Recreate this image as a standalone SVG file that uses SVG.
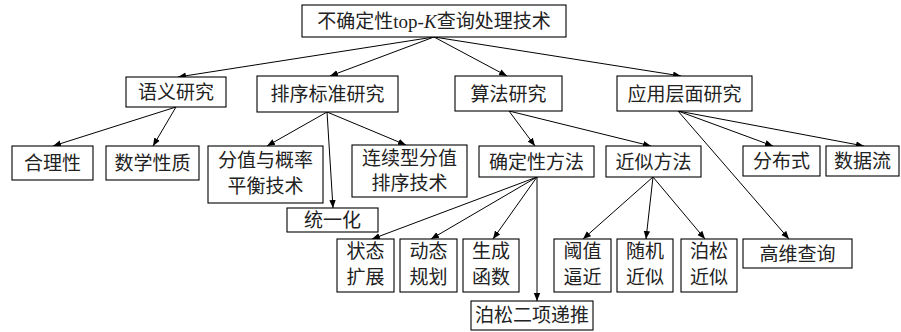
<svg xmlns="http://www.w3.org/2000/svg" width="901" height="332" viewBox="0 0 901 332">
<style>
.box{fill:#fff;stroke:#000;stroke-width:1.1}
.t{font-family:"Liberation Serif","Noto Sans CJK SC",serif;font-size:19px;fill:#222;text-anchor:middle}
.c{stroke:#000;stroke-width:1;fill:none;marker-end:url(#ah)}
</style>
<defs>
<marker id="ah" markerUnits="userSpaceOnUse" markerWidth="9" markerHeight="8" refX="8" refY="4" orient="auto">
<path d="M0,0.8 L8,4 L0,7.2 Z" fill="#000"/>
</marker>
</defs>
<rect width="901" height="332" fill="#fff"/>
<g id="connectors">
<line class="c" x1="434" y1="37" x2="178" y2="77"/>
<line class="c" x1="434" y1="37" x2="330" y2="76"/>
<line class="c" x1="434" y1="37" x2="507" y2="76"/>
<line class="c" x1="434" y1="37" x2="681" y2="76"/>
<line class="c" x1="176" y1="107" x2="53" y2="146"/>
<line class="c" x1="176" y1="107" x2="153" y2="146"/>
<line class="c" x1="327" y1="112" x2="267" y2="146"/>
<line class="c" x1="327" y1="112" x2="406" y2="145"/>
<line class="c" x1="327" y1="112" x2="333" y2="208"/>
<line class="c" x1="509" y1="111" x2="535" y2="146"/>
<line class="c" x1="509" y1="111" x2="651" y2="146"/>
<line class="c" x1="678" y1="111" x2="773" y2="146"/>
<line class="c" x1="678" y1="111" x2="864" y2="146"/>
<line class="c" x1="678" y1="111" x2="789" y2="239"/>
<line class="c" x1="537" y1="177" x2="372" y2="239"/>
<line class="c" x1="537" y1="177" x2="431" y2="239"/>
<line class="c" x1="537" y1="177" x2="493" y2="239"/>
<line class="c" x1="537" y1="177" x2="537" y2="301"/>
<line class="c" x1="653" y1="177" x2="583" y2="239"/>
<line class="c" x1="653" y1="177" x2="646" y2="239"/>
<line class="c" x1="653" y1="177" x2="705" y2="239"/>
</g>
<g id="root"><rect class="box" x="302" y="5" width="264" height="32"/><text class="t" x="434" y="28" font-size="20px">不确定性top-<tspan font-style="italic">K</tspan>查询处理技术</text></g>
<g id="yuyi"><rect class="box" x="126" y="77" width="100" height="30"/><text class="t" x="176" y="99">语义研究</text></g>
<g id="paixu"><rect class="box" x="257" y="76" width="141" height="36"/><text class="t" x="327.5" y="101">排序标准研究</text></g>
<g id="suanfa"><rect class="box" x="455" y="76" width="107" height="35"/><text class="t" x="508.5" y="100.5">算法研究</text></g>
<g id="yingyong"><rect class="box" x="617" y="76" width="135" height="35"/><text class="t" x="684.5" y="100.5">应用层面研究</text></g>
<g id="heli"><rect class="box" x="12" y="146" width="81" height="34"/><text class="t" x="52.5" y="170">合理性</text></g>
<g id="shuxue"><rect class="box" x="106" y="146" width="93" height="34"/><text class="t" x="152.5" y="170">数学性质</text></g>
<g id="fenzhi"><rect class="box" x="208" y="146" width="115" height="57"/><text class="t" x="265.5" y="167">分值与概率</text><text class="t" x="265.5" y="193">平衡技术</text></g>
<g id="lianxu"><rect class="box" x="352" y="145" width="115" height="52"/><text class="t" x="409.5" y="165">连续型分值</text><text class="t" x="409.5" y="190">排序技术</text></g>
<g id="tongyi"><rect class="box" x="287" y="208" width="91" height="24"/><text class="t" x="332.5" y="227">统一化</text></g>
<g id="queding"><rect class="box" x="479" y="146" width="115" height="31"/><text class="t" x="536.5" y="168.5">确定性方法</text></g>
<g id="jinsi"><rect class="box" x="606" y="146" width="95" height="31"/><text class="t" x="653.5" y="168.5">近似方法</text></g>
<g id="fenbu"><rect class="box" x="743" y="146" width="77" height="30"/><text class="t" x="781.5" y="168">分布式</text></g>
<g id="shuju"><rect class="box" x="826" y="146" width="73" height="30"/><text class="t" x="862.5" y="168">数据流</text></g>
<g id="zhuangtai"><rect class="box" x="337" y="239" width="57" height="53"/><text class="t" x="365.5" y="258">状态</text><text class="t" x="365.5" y="284">扩展</text></g>
<g id="dongtai"><rect class="box" x="400" y="239" width="57" height="53"/><text class="t" x="428.5" y="258">动态</text><text class="t" x="428.5" y="284">规划</text></g>
<g id="shengcheng"><rect class="box" x="463" y="239" width="56" height="53"/><text class="t" x="491" y="258">生成</text><text class="t" x="491" y="284">函数</text></g>
<g id="bosong2"><rect class="box" x="471" y="301" width="122" height="29"/><text class="t" x="532" y="322">泊松二项递推</text></g>
<g id="yuzhi"><rect class="box" x="554" y="239" width="57" height="53"/><text class="t" x="582.5" y="258">阈值</text><text class="t" x="582.5" y="284">逼近</text></g>
<g id="suiji"><rect class="box" x="617" y="239" width="56" height="53"/><text class="t" x="645" y="258">随机</text><text class="t" x="645" y="284">近似</text></g>
<g id="bosong"><rect class="box" x="681" y="239" width="56" height="53"/><text class="t" x="709" y="258">泊松</text><text class="t" x="709" y="284">近似</text></g>
<g id="gaowei"><rect class="box" x="743" y="239" width="109" height="29"/><text class="t" x="797.5" y="260.5">高维查询</text></g>
</svg>
